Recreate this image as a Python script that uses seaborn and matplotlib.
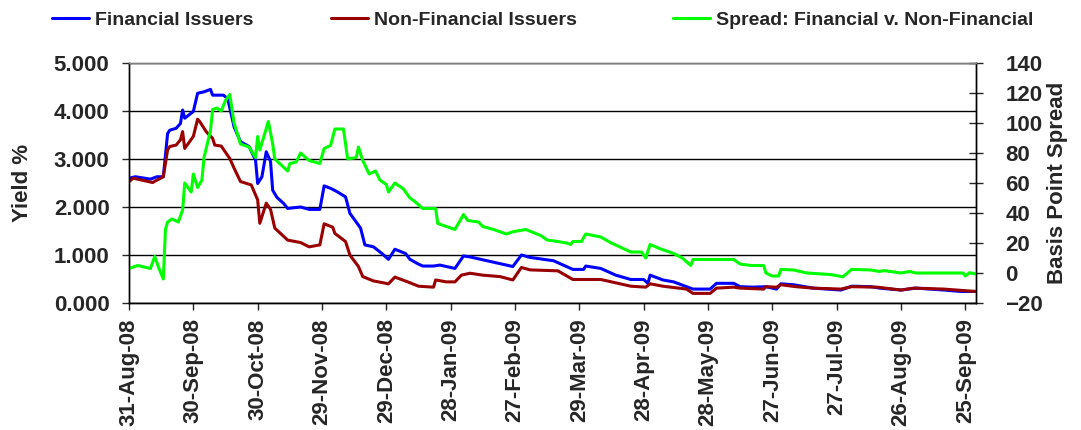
import numpy as np
import pandas as pd
import seaborn as sns
import matplotlib.pyplot as plt
import matplotlib.dates as mdates
from matplotlib.lines import Line2D

# data, x as days after 31-Aug-08
START = pd.Timestamp('2008-08-31')

fin_days = [0, 3, 10, 13, 16, 18, 19, 22, 24, 25, 26, 30, 32, 35, 38, 39, 44, 46, 49, 52,
            56, 59, 60, 62, 64, 66, 67, 69, 72, 74, 80, 84, 89, 91, 94, 97, 101, 103, 108, 110,
            114, 118, 121, 124, 129, 131, 135, 137, 142, 145, 152, 156, 159, 164, 171, 179, 183, 187, 198, 207,
            212, 213, 220, 227, 234, 240, 242, 243, 249, 254, 260, 263, 271, 274, 282, 285, 291, 297, 302, 304,
            310, 319, 332, 337, 346, 350, 360, 367, 380, 388, 395]
fin_yield = [2.60, 2.63, 2.58, 2.63, 2.63, 3.53, 3.60, 3.64, 3.74, 4.02, 3.85, 3.99, 4.37, 4.40, 4.45, 4.33, 4.33, 4.26, 3.67, 3.36,
             3.26, 2.98, 2.49, 2.63, 3.15, 2.95, 2.35, 2.20, 2.08, 1.97, 2.00, 1.95, 1.95, 2.44, 2.39, 2.32, 2.21, 1.87, 1.56, 1.21,
             1.17, 1.03, 0.91, 1.12, 1.03, 0.91, 0.81, 0.77, 0.77, 0.79, 0.72, 0.98, 0.96, 0.91, 0.84, 0.76, 1.00, 0.95, 0.88, 0.70,
             0.70, 0.77, 0.72, 0.58, 0.49, 0.49, 0.41, 0.58, 0.48, 0.44, 0.34, 0.29, 0.29, 0.41, 0.41, 0.34, 0.33, 0.34, 0.29, 0.40,
             0.38, 0.31, 0.27, 0.35, 0.34, 0.31, 0.27, 0.31, 0.27, 0.24, 0.24]

nonfin_days = [0, 2, 7, 11, 16, 18, 19, 22, 24, 25, 26, 30, 32, 33, 36, 39, 40, 43, 47, 49,
               52, 57, 60, 61, 64, 66, 68, 74, 80, 84, 89, 91, 95, 96, 101, 103, 107, 109, 114, 121,
               124, 130, 135, 142, 143, 148, 152, 155, 159, 165, 173, 179, 183, 187, 200, 207, 220, 234, 241, 243,
               249, 260, 263, 271, 274, 282, 285, 296, 297, 302, 304, 311, 319, 332, 337, 349, 360, 366, 380, 386, 395]
nonfin_yield = [2.53, 2.60, 2.55, 2.51, 2.63, 3.19, 3.26, 3.29, 3.40, 3.57, 3.22, 3.47, 3.83, 3.78, 3.57, 3.43, 3.29, 3.27, 3.01, 2.81,
                2.53, 2.46, 2.15, 1.66, 2.08, 1.95, 1.56, 1.31, 1.26, 1.17, 1.21, 1.65, 1.58, 1.45, 1.28, 1.00, 0.76, 0.55, 0.46, 0.40,
                0.54, 0.44, 0.35, 0.33, 0.48, 0.44, 0.44, 0.58, 0.62, 0.58, 0.55, 0.48, 0.74, 0.69, 0.67, 0.49, 0.49, 0.35, 0.33, 0.40,
                0.35, 0.29, 0.20, 0.20, 0.31, 0.33, 0.31, 0.29, 0.34, 0.33, 0.38, 0.34, 0.31, 0.29, 0.34, 0.33, 0.27, 0.31, 0.29, 0.27, 0.24]

spread_days = [0, 4, 10, 12, 14, 16, 17, 18, 20, 23, 25, 26, 29, 30, 32, 34, 35, 38, 39, 41,
               43, 45, 47, 49, 52, 56, 59, 60, 61, 65, 67, 68, 74, 75, 78, 80, 84, 89, 91, 94,
               96, 100, 102, 106, 107, 109, 112, 115, 117, 120, 121, 124, 128, 131, 133, 137, 143, 144, 148, 152,
               156, 158, 163, 165, 170, 176, 179, 185, 192, 195, 200, 204, 206, 207, 211, 213, 220, 225, 234, 239,
               241, 243, 248, 254, 258, 262, 263, 271, 277, 282, 285, 290, 296, 297, 300, 303, 304, 310, 316, 327,
               333, 337, 346, 350, 352, 360, 364, 367, 389, 390, 392, 395]
spread_bp = [3, 5, 3, 11, 3, -4, 29, 34, 36, 34, 42, 60, 54, 66, 57, 62, 77, 95, 109, 110,
             108, 115, 119, 100, 86, 84, 77, 91, 82, 101, 86, 76, 68, 73, 74, 80, 75, 73, 83, 85,
             96, 96, 76, 77, 84, 75, 66, 68, 62, 59, 54, 60, 56, 50, 48, 43, 43, 33, 31, 29,
             39, 35, 34, 31, 29, 26, 27.5, 29, 25, 22, 21, 20, 19, 21, 21, 26, 24, 20, 14, 14,
             10, 19, 16, 13, 10, 5, 9, 9, 9, 9, 6, 5, 5, 0, -2, -2, 2.4, 2, 0, -1,
             -2.5, 2.4, 2, 1, 1.6, 0, 1, 0, 0, -2, 0.2, -0.7]

fin = pd.DataFrame({'date': START + pd.to_timedelta(fin_days, unit='D'), 'yield': fin_yield})
nonfin = pd.DataFrame({'date': START + pd.to_timedelta(nonfin_days, unit='D'), 'yield': nonfin_yield})
spread = pd.DataFrame({'date': START + pd.to_timedelta(spread_days, unit='D'), 'bp': spread_bp})

sns.set_style('white')
plt.rcParams['font.family'] = ['Liberation Sans', 'DejaVu Sans']
plt.rcParams['font.weight'] = 'bold'

fig = plt.figure(figsize=(10.81, 4.30), dpi=100)
ax = fig.add_axes([129 / 1081, 1 - 303 / 430, (976 - 129) / 1081, 240 / 430])
ax2 = ax.twinx()

sns.lineplot(data=fin, x='date', y='yield', ax=ax, color='#0000FF', linewidth=2.2, errorbar=None)
sns.lineplot(data=nonfin, x='date', y='yield', ax=ax, color='#990000', linewidth=2.2, errorbar=None)
sns.lineplot(data=spread, x='date', y='bp', ax=ax2, color='#00FF00', linewidth=2.2, errorbar=None)

ax.set_ylim(0, 5)
ax.set_yticks(np.arange(0, 5.01, 1))
ax.set_yticklabels([f'{v:.3f}' for v in np.arange(0, 5.01, 1)])
ax2.set_ylim(-20, 140)
ax2.set_yticks(np.arange(-20, 141, 20))

xticks = START + pd.to_timedelta(np.arange(0, 391, 30), unit='D')
ax.set_xlim(START, START + pd.Timedelta(days=395))
ax.set_xticks(xticks)
ax.xaxis.set_major_formatter(mdates.DateFormatter('%d-%b-%y'))
for lab in ax.get_xticklabels():
    lab.set_rotation(90)

ax.yaxis.grid(True, color='black', linewidth=1)
ax.xaxis.grid(False)
ax2.grid(False)

ax.tick_params(axis='y', direction='out', length=5, width=1, pad=9, labelsize=16, left=True)
ax.tick_params(axis='x', direction='out', length=5, width=1, pad=6, labelsize=16, bottom=True)
ax2.tick_params(axis='y', direction='inout', length=10, width=1, pad=16, labelsize=16, right=True)

for a in (ax, ax2):
    for s in a.spines.values():
        s.set_color('black')
        s.set_linewidth(1)
    a.spines['top'].set_color('#808080')

ax.set_xlabel('')
ax.set_ylabel('Yield %', fontsize=16, fontweight='bold')
ax.yaxis.set_label_coords(-0.113, 0.5)
ax2.set_ylabel('Basis Point Spread', fontsize=16, fontweight='bold', rotation=90)
ax2.yaxis.set_label_coords(1.084, 0.5)

# legend entries placed across the top, one per series
entries = [('Financial Issuers', '#0000FF', 52),
           ('Non-Financial Issuers', '#990000', 331),
           ('Spread: Financial v. Non-Financial', '#00FF00', 673)]
for label, color, x0 in entries:
    h = Line2D([], [], color=color, linewidth=2.2)
    fig.legend([h], [label], loc='center left', bbox_to_anchor=(x0 / 1081, 1 - 20 / 430),
               frameon=False, handlelength=1.9, handletextpad=0.3,
               borderpad=0, borderaxespad=0, prop={'weight': 'bold', 'size': 14})

fig.savefig('out.png', dpi=100)
